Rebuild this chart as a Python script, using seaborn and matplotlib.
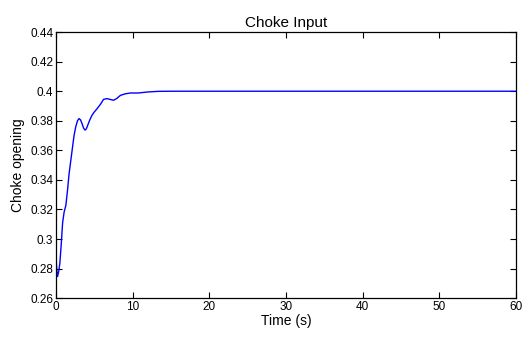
import pandas as pd
import seaborn as sns
import matplotlib.pyplot as plt

# values
time = [0.0, 0.1, 0.2, 0.35, 0.5, 0.7, 0.86, 1.05, 1.29, 1.5, 1.7, 1.95, 2.15, 2.35, 2.57,
        2.8, 3.0, 3.2, 3.4, 3.6, 3.78, 3.95, 4.1, 4.4, 4.7, 5.0, 5.36, 5.8, 6.2, 6.65,
        7.1, 7.5, 7.9, 8.4, 9.0, 9.7, 10.7, 12.0, 13.3, 15.0, 20.0, 30.0, 40.0, 50.0, 60.0]
choke = [0.288, 0.279, 0.2746, 0.278, 0.2836, 0.298, 0.311, 0.318, 0.323, 0.333, 0.344,
         0.354, 0.362, 0.370, 0.3759, 0.3800, 0.3815, 0.3806, 0.3780, 0.3750, 0.3737,
         0.3745, 0.3765, 0.3805, 0.3838, 0.3860, 0.3882, 0.3912, 0.3945, 0.3950, 0.3944,
         0.3939, 0.3950, 0.3972, 0.3982, 0.3988, 0.3988, 0.3995, 0.3999, 0.4, 0.4, 0.4,
         0.4, 0.4, 0.4]

df = pd.DataFrame({'time': time, 'choke': choke})

sns.set_style('white')
plt.rcParams['font.family'] = ['Liberation Sans', 'DejaVu Sans']
plt.rcParams['text.color'] = 'black'
plt.rcParams['axes.labelcolor'] = 'black'
plt.rcParams['xtick.color'] = 'black'
plt.rcParams['ytick.color'] = 'black'

fig = plt.figure(figsize=(5.3, 3.38), dpi=100)
ax = fig.add_axes([0.1057, 0.118, 0.8679, 0.787])
sns.lineplot(data=df, x='time', y='choke', color='blue', linewidth=1.0, ax=ax)

ax.set_xlim(0, 60)
ax.set_ylim(0.26, 0.44)
ax.set_xticks([0, 10, 20, 30, 40, 50, 60])
ax.set_yticks([0.26, 0.28, 0.3, 0.32, 0.34, 0.36, 0.38, 0.4, 0.42, 0.44])
ax.set_yticklabels(['0.26', '0.28', '0.3', '0.32', '0.34', '0.36', '0.38', '0.4', '0.42', '0.44'])
ax.tick_params(direction='in', top=True, right=True, length=4, width=0.8, labelsize=8.5,
               bottom=True, left=True, pad=2)
for s in ax.spines.values():
    s.set_color('black')
    s.set_linewidth(0.9)
ax.set_xlabel('Time (s)', fontsize=10, labelpad=1)
ax.set_ylabel('Choke opening', fontsize=10, labelpad=4)
ax.set_title('Choke Input', fontsize=11, pad=4)

plt.savefig('out.png', dpi=100)
plt.close()
